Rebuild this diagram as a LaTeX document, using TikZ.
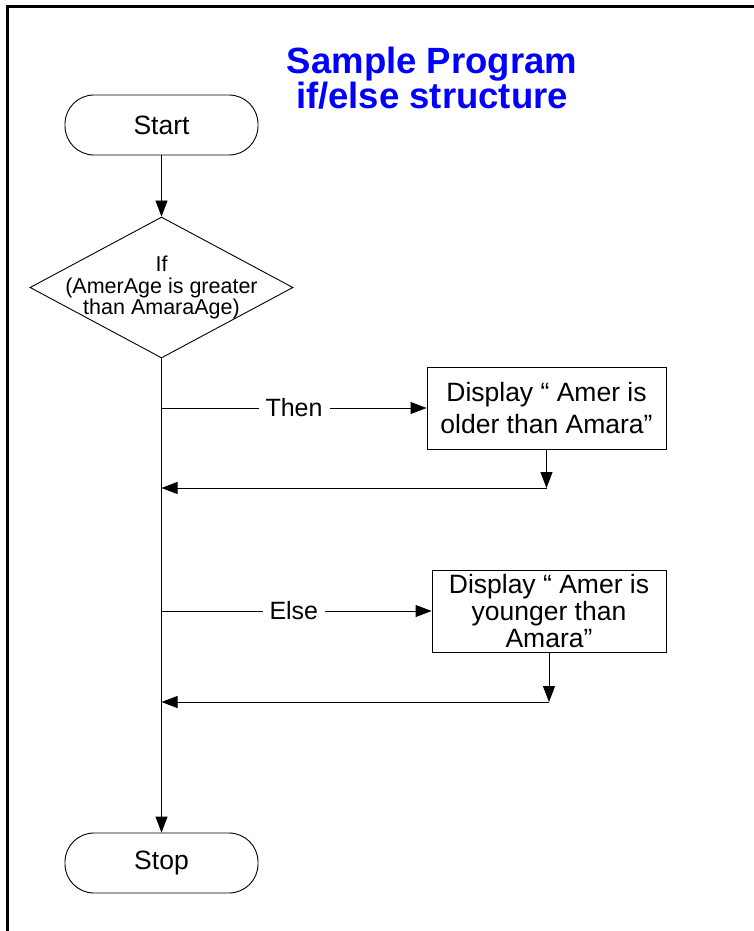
\documentclass[tikz,border=0pt]{standalone}
\usepackage{fontspec}
\setmainfont{Liberation Sans}
\usetikzlibrary{shapes.geometric,arrows.meta}
\definecolor{titleblue}{RGB}{0,0,255}
\tikzset{x=1pt, y=-1pt,
    every path/.style={line width=0.9pt},
    flowarrow/.style={-{Triangle[length=16pt,width=12pt]}},
    terminal/.style={draw, rounded corners=29pt, minimum width=193pt, minimum height=60pt,
        font=\fontsize{26.5}{30}\selectfont},
    decision/.style={draw, diamond, inner sep=0pt, minimum width=263pt, minimum height=141pt},
    process/.style={draw, align=center, minimum width=239pt, minimum height=82pt, inner sep=0pt},
    branchlabel/.style={fill=white, inner xsep=7pt, font=\fontsize{25}{30}\selectfont},
    }

\begin{document}
\begin{tikzpicture}
\useasboundingbox (0,0) rectangle (754,931);
\draw[line width=3pt] (7,940) -- (7,7) -- (760,7);%frame
\node[align=center, text=titleblue, font=\fontsize{36.5}{31}\selectfont\bfseries] (title) at (432,78)
    {Sample Program\\if/else structure};
\node[terminal] (start) at (161.5,125) {Start};
\node[decision, label={[align=center, font=\fontsize{21.5}{21.5}\selectfont]center:If\\(AmerAge is greater\\than AmaraAge)}]
    (cond) at (161.5,287.5) {};
\node[process, font=\fontsize{26.5}{32}\selectfont] (older) at (546.5,408)
    {Display `` Amer is\\older than Amara''};
\node[process, minimum width=234pt, font=\fontsize{26.5}{27}\selectfont] (younger) at (549,611)
    {Display `` Amer is\\younger than\\Amara''};
\node[terminal] (stop) at (161.5,863) {Stop};
\coordinate (thenfork) at (161.5,408);
\coordinate (elsefork) at (161.5,611);
\coordinate (olderjoin) at (546.5,488);
\coordinate (youngerjoin) at (549,702);
\coordinate (thenmerge) at (161.5,488);
\coordinate (elsemerge) at (161.5,702);
\draw[flowarrow] (start) -- (cond);
\draw[flowarrow] (cond.south) -- (stop);
\draw[flowarrow] (thenfork) -- node[branchlabel] {Then} (older);
\draw[flowarrow] (elsefork) -- node[branchlabel, pos=0.49] {Else} (younger);
\draw[flowarrow] (older) -- (olderjoin);
\draw[flowarrow] (olderjoin) -- (thenmerge);
\draw[flowarrow] (younger) -- (youngerjoin);
\draw[flowarrow] (youngerjoin) -- (elsemerge);
\end{tikzpicture}
\end{document}
